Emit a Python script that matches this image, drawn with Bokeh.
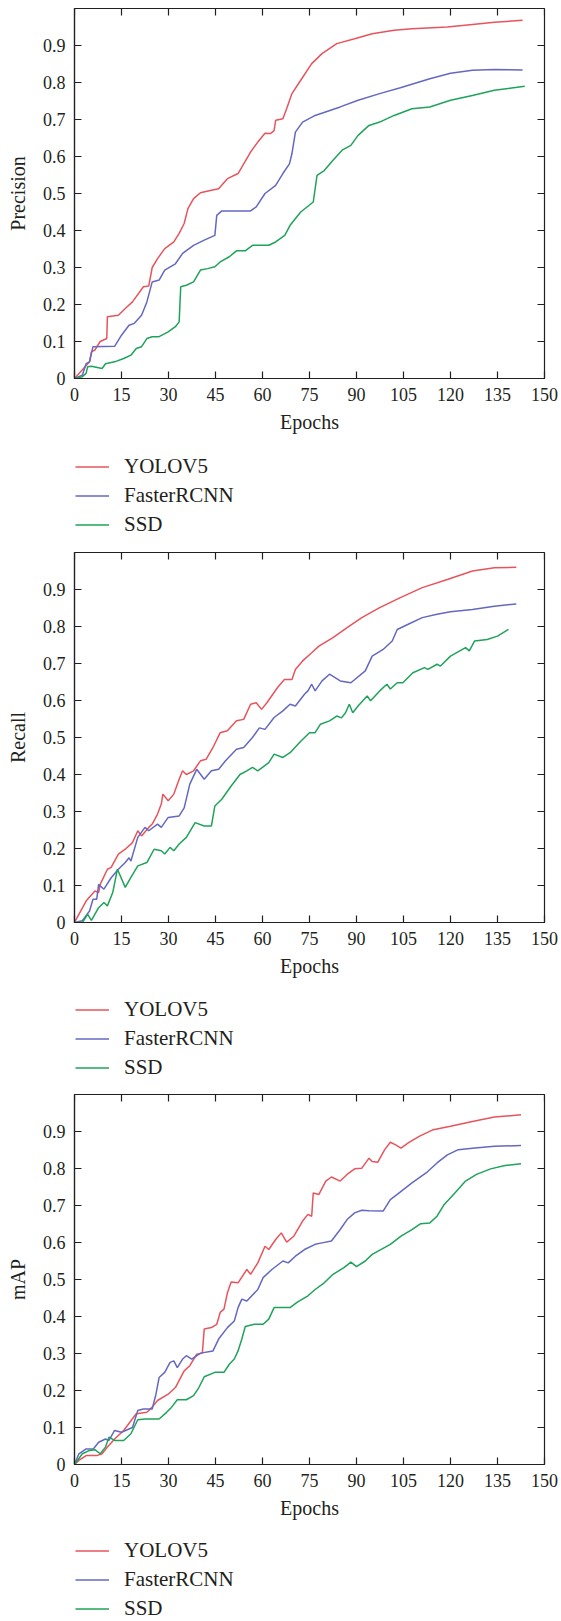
import math
from bokeh.plotting import figure
from bokeh.models import FixedTicker, Range1d, Legend, LegendItem
from bokeh.layouts import column
from bokeh.embed import file_html
from bokeh.resources import INLINE

# ---------------- data ----------------
x_ticks = [0, 15, 30, 45, 60, 75, 90, 105, 120, 135, 150]
y_ticks = [0, 0.1, 0.2, 0.3, 0.4, 0.5, 0.6, 0.7, 0.8, 0.9]
y_tick_labels = ["0", "0.1", "0.2", "0.3", "0.4", "0.5", "0.6", "0.7", "0.8", "0.9"]
series_names = ["YOLOV5", "FasterRCNN", "SSD"]
series_colors = ["#e8545c", "#6468c0", "#1fa35a"]
x_label = "Epochs"
x_min, x_max = 0, 150
y_min, y_max = 0, 1.0

# Precision
prec_yolo_x = [0, 4.8, 5.4, 6.5, 8.2, 10.3, 10.5, 14, 16.2, 18.5, 22, 23.7, 24.8, 26.5, 28.8, 31.7, 33.4, 35, 36.2, 38, 40.2, 43.7, 46, 48.8, 52.2, 54, 56.2, 58.5, 60.8, 62.5, 63.7, 64.2, 66.5, 67.7, 69.4, 72.2, 75.7, 79, 83.7, 89.4, 95, 102, 107.7, 119, 127, 134, 143]
prec_yolo_y = [0, 0.045, 0.072, 0.077, 0.1, 0.108, 0.167, 0.171, 0.189, 0.207, 0.248, 0.25, 0.30, 0.324, 0.351, 0.369, 0.392, 0.419, 0.459, 0.486, 0.502, 0.509, 0.513, 0.54, 0.554, 0.58, 0.612, 0.639, 0.663, 0.662, 0.67, 0.698, 0.702, 0.729, 0.77, 0.806, 0.851, 0.878, 0.905, 0.918, 0.932, 0.941, 0.945, 0.95, 0.957, 0.963, 0.968]
prec_frcnn_x = [0, 2.5, 3.7, 4.8, 5.4, 5.9, 12.8, 15, 17.4, 19.1, 21.4, 23.1, 24.8, 27, 28.8, 32.2, 34.5, 38, 41.4, 44.8, 45.4, 47, 56.2, 58, 60.8, 64.2, 66.5, 68.6, 69.4, 70.5, 72.8, 76.8, 84.8, 90.5, 97.4, 104, 113.4, 120, 127, 134, 143]
prec_frcnn_y = [0, 0.009, 0.04, 0.045, 0.068, 0.086, 0.087, 0.117, 0.144, 0.149, 0.171, 0.207, 0.261, 0.266, 0.293, 0.31, 0.338, 0.36, 0.374, 0.387, 0.441, 0.453, 0.453, 0.464, 0.5, 0.522, 0.554, 0.58, 0.608, 0.666, 0.693, 0.711, 0.734, 0.752, 0.77, 0.786, 0.81, 0.825, 0.833, 0.835, 0.834]
prec_ssd_x = [0, 2.5, 3.7, 4.2, 5.4, 8.8, 9.9, 12.8, 15.7, 18, 19.7, 21.4, 23.1, 24.8, 27, 29.9, 32.2, 33.4, 33.9, 35.7, 38, 40.2, 42.5, 44.8, 46.5, 49.4, 51.7, 54.5, 56.8, 62, 64.2, 67.1, 68.8, 72.2, 76.2, 77.4, 79.7, 82.5, 85.4, 88.2, 90.5, 94, 97.4, 102, 107.7, 113.4, 120, 127, 134, 143.7]
prec_ssd_y = [0, 0.005, 0.014, 0.032, 0.033, 0.027, 0.04, 0.045, 0.054, 0.063, 0.081, 0.086, 0.108, 0.113, 0.113, 0.126, 0.14, 0.153, 0.248, 0.252, 0.261, 0.293, 0.297, 0.302, 0.315, 0.329, 0.345, 0.345, 0.36, 0.36, 0.369, 0.387, 0.414, 0.45, 0.477, 0.549, 0.562, 0.59, 0.617, 0.63, 0.657, 0.684, 0.693, 0.711, 0.729, 0.734, 0.752, 0.765, 0.779, 0.79]

# Recall
rec_yolo_x = [0, 3.7, 6.5, 7.7, 8.2, 10.5, 11.7, 14, 16.2, 18.5, 20.2, 21.4, 23.7, 24.8, 26.5, 27.7, 28.2, 29.9, 31.7, 33.4, 34.5, 35.7, 38, 40.2, 42, 44.2, 46.5, 48.8, 51.7, 54, 56.2, 58, 59.7, 61.4, 64.8, 67, 69.4, 70.5, 72.8, 75.7, 78, 82.5, 87, 91.7, 97.4, 104, 111, 119, 127, 134, 141]
rec_yolo_y = [0, 0.058, 0.085, 0.081, 0.103, 0.144, 0.149, 0.185, 0.198, 0.216, 0.248, 0.234, 0.257, 0.266, 0.293, 0.32, 0.347, 0.329, 0.347, 0.387, 0.41, 0.4, 0.41, 0.437, 0.441, 0.473, 0.513, 0.518, 0.545, 0.549, 0.59, 0.594, 0.576, 0.594, 0.635, 0.657, 0.657, 0.684, 0.707, 0.729, 0.747, 0.77, 0.797, 0.824, 0.851, 0.878, 0.905, 0.927, 0.95, 0.959, 0.96]
rec_frcnn_x = [0, 2.5, 4.8, 5.9, 7.1, 7.7, 9.4, 11.7, 14, 16.2, 17.4, 18, 20.2, 22.5, 23.7, 26.5, 27.7, 29.9, 33.4, 35, 36.8, 39, 41.4, 43.7, 46, 48.2, 51.7, 54, 56.8, 59, 60.8, 63.7, 66.5, 68.8, 70.5, 73.4, 74.5, 75.7, 76.8, 79, 81.4, 84.8, 88.2, 92.8, 95, 98.5, 101.4, 103, 106.5, 111, 115.7, 120, 127, 134, 141]
rec_frcnn_y = [0, 0.005, 0.031, 0.063, 0.063, 0.103, 0.09, 0.121, 0.144, 0.162, 0.175, 0.166, 0.23, 0.257, 0.248, 0.266, 0.257, 0.284, 0.288, 0.31, 0.374, 0.414, 0.387, 0.41, 0.414, 0.437, 0.468, 0.473, 0.5, 0.526, 0.522, 0.554, 0.572, 0.59, 0.585, 0.617, 0.626, 0.644, 0.626, 0.653, 0.671, 0.653, 0.648, 0.68, 0.72, 0.738, 0.761, 0.792, 0.806, 0.824, 0.833, 0.84, 0.846, 0.855, 0.861]
rec_ssd_x = [0, 2.5, 4.2, 5.4, 7.7, 9.4, 10.5, 12.2, 13.7, 16.2, 18, 20.2, 23.1, 25.4, 27.7, 28.8, 30.5, 31.7, 33.4, 35.7, 38.5, 41.4, 43.7, 44.8, 47, 50, 52.8, 55, 56.8, 58.5, 62, 63.7, 66.5, 68.8, 72.2, 75, 76.8, 78.5, 81.4, 83.7, 85.2, 86.5, 87.7, 88.8, 90.5, 93.4, 94.5, 97.4, 99.7, 100.8, 103, 104.8, 108, 111.7, 112.8, 115.7, 116.8, 120, 124.8, 126, 127.7, 131.7, 135, 138.5]
rec_ssd_y = [0, 0.0, 0.022, 0.006, 0.04, 0.054, 0.045, 0.081, 0.144, 0.095, 0.122, 0.153, 0.162, 0.198, 0.194, 0.185, 0.203, 0.194, 0.212, 0.23, 0.27, 0.261, 0.261, 0.315, 0.333, 0.369, 0.4, 0.41, 0.419, 0.41, 0.432, 0.455, 0.446, 0.459, 0.49, 0.513, 0.513, 0.536, 0.545, 0.558, 0.553, 0.567, 0.59, 0.567, 0.585, 0.612, 0.599, 0.626, 0.644, 0.631, 0.648, 0.648, 0.675, 0.689, 0.684, 0.698, 0.693, 0.72, 0.743, 0.734, 0.761, 0.765, 0.774, 0.792]

# mAP
map_yolo_x = [0, 1.4, 3.7, 7.1, 8.8, 10.5, 12.8, 15.7, 19.7, 23.1, 24.8, 26.5, 29.9, 32.2, 35, 36.8, 39, 40.8, 41.4, 43.7, 45.4, 46.5, 47.7, 48.8, 50, 52.2, 55, 56.2, 58.5, 60.8, 62, 64.2, 66, 67.7, 70, 72.8, 74.5, 75.7, 76.2, 78, 80.2, 82, 84.8, 87, 89.4, 91.7, 94, 95, 96.8, 99, 100.8, 102.5, 104.2, 106.5, 110, 114.5, 120, 127, 134, 142.5]
map_yolo_y = [0, 0.011, 0.024, 0.024, 0.029, 0.047, 0.069, 0.092, 0.137, 0.141, 0.155, 0.173, 0.19, 0.208, 0.253, 0.267, 0.298, 0.301, 0.366, 0.37, 0.379, 0.411, 0.42, 0.464, 0.493, 0.491, 0.527, 0.514, 0.545, 0.59, 0.581, 0.608, 0.626, 0.601, 0.617, 0.658, 0.676, 0.671, 0.734, 0.73, 0.766, 0.777, 0.766, 0.784, 0.799, 0.801, 0.828, 0.819, 0.817, 0.851, 0.871, 0.864, 0.855, 0.869, 0.887, 0.905, 0.914, 0.927, 0.939, 0.945]
map_frcnn_x = [0, 1.4, 3.7, 6.0, 7.7, 9.9, 11.0, 12.8, 15, 18.5, 20.2, 22, 24.8, 26, 27, 28.8, 30.5, 31.7, 32.8, 34.5, 35.7, 37.4, 40.2, 44.2, 46, 48.8, 51, 52.2, 53.4, 55, 58.5, 60.2, 63, 66.5, 68.2, 70.5, 73.4, 76.8, 79, 82, 84.8, 87, 89.4, 91.7, 94, 98.5, 100.8, 103, 107.7, 112.2, 115.7, 119, 122.5, 127, 134, 142.5]
map_frcnn_y = [0, 0.029, 0.042, 0.042, 0.06, 0.069, 0.065, 0.092, 0.087, 0.1, 0.146, 0.15, 0.15, 0.19, 0.235, 0.249, 0.276, 0.28, 0.262, 0.285, 0.294, 0.285, 0.301, 0.307, 0.339, 0.37, 0.388, 0.424, 0.447, 0.442, 0.473, 0.505, 0.527, 0.55, 0.545, 0.563, 0.581, 0.595, 0.599, 0.604, 0.635, 0.662, 0.68, 0.687, 0.686, 0.685, 0.716, 0.73, 0.761, 0.788, 0.815, 0.837, 0.851, 0.855, 0.86, 0.862]
map_ssd_x = [0, 2.5, 4.8, 6.5, 8.2, 9.9, 11, 12.8, 15.7, 18, 20.2, 22.5, 27, 29.4, 31, 32.8, 35.7, 38, 39.7, 41.4, 44.8, 47.7, 49.4, 51, 52.2, 53.4, 54.5, 57.4, 60.2, 62, 63.7, 68.8, 71, 74.5, 76.8, 79.7, 82.5, 86, 88.2, 90, 92.8, 95, 100.8, 104.2, 107.7, 110.5, 113.4, 115.7, 118, 121.4, 124.8, 128.3, 132.8, 137.4, 142.5]
map_ssd_y = [0, 0.029, 0.038, 0.04, 0.029, 0.047, 0.074, 0.065, 0.065, 0.083, 0.121, 0.123, 0.123, 0.141, 0.155, 0.175, 0.175, 0.186, 0.208, 0.237, 0.249, 0.249, 0.271, 0.285, 0.307, 0.339, 0.373, 0.379, 0.379, 0.393, 0.424, 0.424, 0.438, 0.456, 0.473, 0.491, 0.514, 0.532, 0.547, 0.535, 0.55, 0.568, 0.595, 0.617, 0.635, 0.651, 0.653, 0.671, 0.703, 0.734, 0.766, 0.784, 0.799, 0.808, 0.813]

panels = [
    ("Precision", [(prec_yolo_x, prec_yolo_y), (prec_frcnn_x, prec_frcnn_y), (prec_ssd_x, prec_ssd_y)]),
    ("Recall", [(rec_yolo_x, rec_yolo_y), (rec_frcnn_x, rec_frcnn_y), (rec_ssd_x, rec_ssd_y)]),
    ("mAP", [(map_yolo_x, map_yolo_y), (map_frcnn_x, map_frcnn_y), (map_ssd_x, map_ssd_y)]),
]

FONT = "Liberation Serif"
TXT = "#231f20"
INK = "#231f20"
FIG_W = 561
LEFT, FRAME_W = 74, 470
ITEM_H, ITEM_GAP = 25, 4
LEG_H = 3 * ITEM_H + 2 * ITEM_GAP


def make_panel(ylabel, data, bottom):
    p = figure(width=FIG_W, height=8 + 370 + bottom, frame_width=FRAME_W, frame_height=370,
               x_range=Range1d(x_min, x_max), y_range=Range1d(y_min, y_max),
               output_backend="svg", toolbar_location=None,
               min_border_left=LEFT, min_border_right=FIG_W - LEFT - FRAME_W,
               min_border_top=8, min_border_bottom=bottom,
               background_fill_color="white", border_fill_color="white")
    p.grid.visible = False
    p.outline_line_color = INK
    p.outline_line_width = 1.2

    for (xs, ys), color in zip(data, series_colors):
        p.line(xs, ys, line_color=color, line_width=1.5)

    # mirrored inward ticks on the top and right edges
    p.ray(x=x_ticks, y=[y_max] * len(x_ticks), length=7, length_units="screen",
          angle=-math.pi / 2, line_color=INK, line_width=1.2)
    p.ray(x=[x_max] * len(y_ticks), y=y_ticks, length=7, length_units="screen",
          angle=math.pi, line_color=INK, line_width=1.2)

    xa = p.xaxis[0]
    xa.ticker = FixedTicker(ticks=x_ticks)
    ya = p.yaxis[0]
    ya.ticker = FixedTicker(ticks=y_ticks)
    ya.major_label_overrides = {t: l for t, l in zip(y_ticks, y_tick_labels)}
    for ax in (xa, ya):
        ax.major_tick_in = 7
        ax.major_tick_out = 0
        ax.minor_tick_line_color = None
        ax.major_tick_line_color = INK
        ax.major_tick_line_width = 1.2
        ax.axis_line_color = INK
        ax.axis_line_width = 1.2
        ax.major_label_text_font = FONT
        ax.major_label_text_color = TXT
        ax.major_label_text_font_size = "18px"
        ax.axis_label_text_font = FONT
        ax.axis_label_text_font_style = "normal"
        ax.axis_label_text_color = TXT
        ax.axis_label_text_font_size = "20px"
    xa.major_label_standoff = 9
    ya.major_label_standoff = 9
    xa.axis_label = x_label
    xa.axis_label_standoff = 7
    ya.axis_label = ylabel
    ya.axis_label_standoff = 11
    return p


def make_legend(height, top_offset, data):
    # a strip below each panel that only carries that panel's legend
    lf = figure(width=FIG_W, height=height, frame_width=FIG_W, frame_height=height,
                x_range=Range1d(x_min, x_max), y_range=Range1d(y_min, y_max),
                x_axis_location=None, y_axis_location=None,
                output_backend="svg", toolbar_location=None,
                min_border_left=0, min_border_right=0, min_border_top=0, min_border_bottom=0)
    lf.grid.visible = False
    lf.outline_line_color = None
    rs = [lf.line(xs, ys, line_color=c, line_width=1.5, visible=False)
          for (xs, ys), c in zip(data, series_colors)]
    legend = Legend(items=[LegendItem(label=n, renderers=[r]) for n, r in zip(series_names, rs)],
                    location=(LEFT + 1, height - top_offset - LEG_H), orientation="vertical",
                    label_text_font=FONT, label_text_font_size="21px",
                    label_text_color=TXT, glyph_width=34, glyph_height=ITEM_H,
                    label_height=ITEM_H, label_standoff=15, spacing=ITEM_GAP,
                    padding=0, margin=0, border_line_color=None,
                    background_fill_alpha=0, inactive_fill_alpha=0)
    lf.add_layout(legend, "center")
    return lf


panel_bottoms = [60, 60, 58]
legend_strips = [(106, 16), (104, 15), (99, 16)]
items = []
for (t, d), b, (lh, off) in zip(panels, panel_bottoms, legend_strips):
    items.append(make_panel(t, d, b))
    items.append(make_legend(lh, off, d))
layout = column(*items, spacing=0)

open("out.html", "w").write(file_html(layout, INLINE))
